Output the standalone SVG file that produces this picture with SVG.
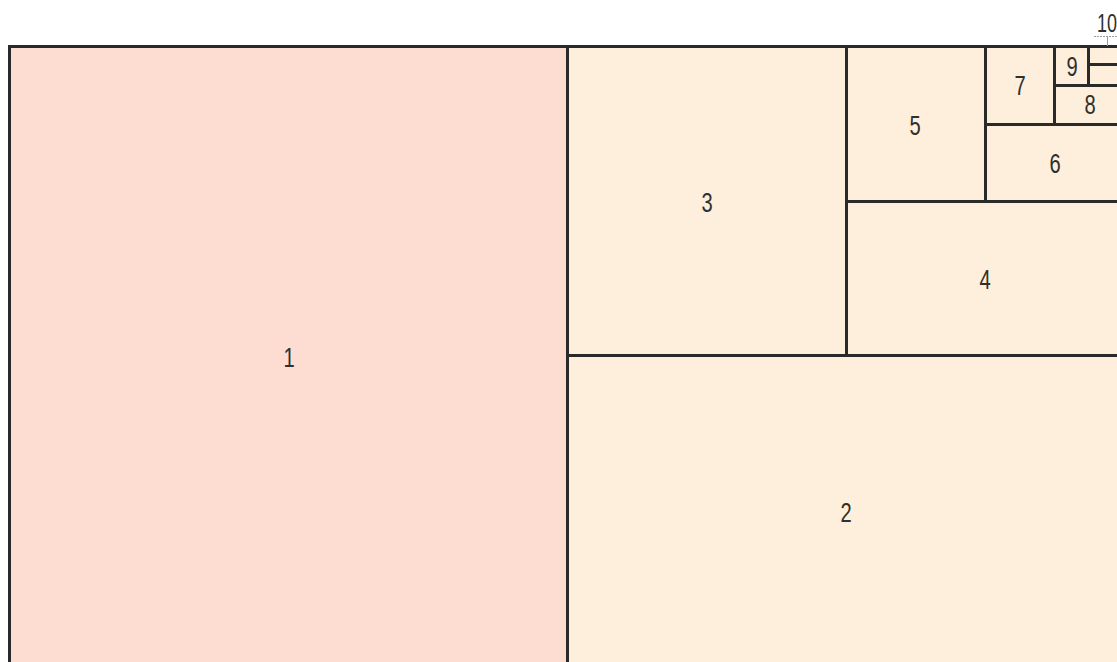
<svg xmlns="http://www.w3.org/2000/svg" width="1117" height="662" viewBox="0 0 1117 662">
<style>
.c{stroke:#2a2a2a;stroke-width:3}
.a{fill:#fddcd2}
.b{fill:#fdefdb}
.t{font-family:"Liberation Sans","DejaVu Sans",sans-serif;font-size:28px;fill:#2f2f2f;text-anchor:middle}
.s{font-size:25px}
.l{stroke:#9a9a9a;stroke-width:1;fill:none}
</style>
<rect width="1117" height="662" fill="#ffffff"/>
<g id="n1"><rect class="c a" x="9.5" y="46.5" width="558" height="622"/><text class="t" transform="translate(289 367) scale(0.72 1)">1</text></g>
<g id="n2"><rect class="c b" x="567.5" y="355.5" width="558" height="313"/><text class="t" transform="translate(846 522) scale(0.72 1)">2</text></g>
<g id="n3"><rect class="c b" x="567.5" y="46.5" width="279" height="309"/><text class="t" transform="translate(707 212) scale(0.72 1)">3</text></g>
<g id="n4"><rect class="c b" x="846.5" y="201.5" width="279" height="154"/><text class="t" transform="translate(985 289) scale(0.72 1)">4</text></g>
<g id="n5"><rect class="c b" x="846.5" y="46.5" width="139" height="155"/><text class="t" transform="translate(915 135) scale(0.72 1)">5</text></g>
<g id="n6"><rect class="c b" x="985.5" y="124.5" width="140" height="77"/><text class="t" transform="translate(1055 173) scale(0.72 1)">6</text></g>
<g id="n7"><rect class="c b" x="985.5" y="46.5" width="69" height="78"/><text class="t" transform="translate(1020 95) scale(0.72 1)">7</text></g>
<g id="n8"><rect class="c b" x="1054.5" y="85.5" width="71" height="39"/><text class="t" transform="translate(1090 114) scale(0.72 1)">8</text></g>
<g id="n9"><rect class="c b" x="1054.5" y="46.5" width="34" height="39"/><text class="t" transform="translate(1072 76) scale(0.72 1)">9</text></g>
<g id="n10"><rect class="c b" x="1088.5" y="46.5" width="37" height="18"/><text class="t s" transform="translate(1107 32) scale(0.72 1)">10</text></g>
<g id="n11"><rect class="c b" x="1088.5" y="64.5" width="37" height="21"/></g>
<g id="connectors"><path class="l" d="M1094 36.5H1117" stroke-dasharray="2 1"/><path class="l" d="M1107.5 36.5V46"/></g>
</svg>
